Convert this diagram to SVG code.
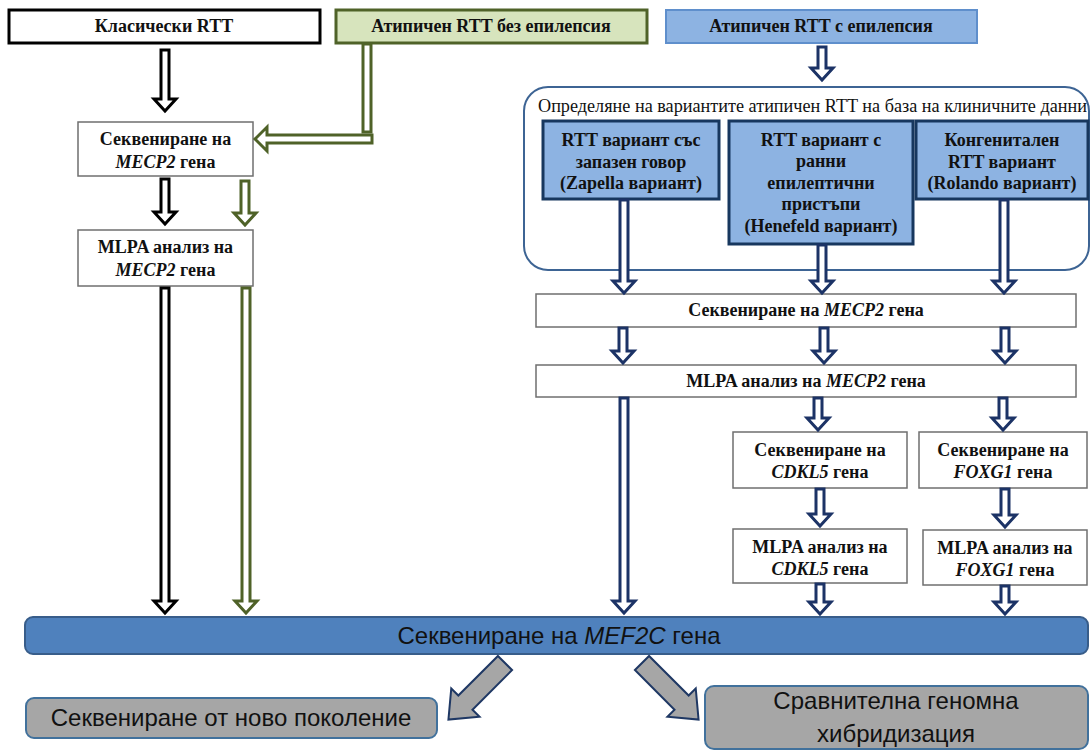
<svg xmlns="http://www.w3.org/2000/svg" width="1090" height="751" viewBox="0 0 1090 751">
  <style>
    .t { font-family: "Liberation Serif", "Times New Roman", serif; font-weight: bold; font-size: 18px; fill: #111; text-anchor: middle; }
    .hdr { font-family: "Liberation Serif", "Times New Roman", serif; font-size: 18px; fill: #111; }
    .s { font-family: "Liberation Sans", Arial, sans-serif; font-size: 24px; fill: #111; text-anchor: middle; }
    .i { font-style: italic; }
    .box { fill: #ffffff; stroke: #6f6f6f; stroke-width: 1.5; }
    .var { fill: #8db3e2; stroke: #17375e; stroke-width: 3; }
    .ab { fill: #ffffff; stroke: #000000; stroke-width: 3; stroke-linejoin: miter; }
    .ag { fill: #ffffff; stroke: #4f6228; stroke-width: 3; stroke-linejoin: miter; }
    .an { fill: #ffffff; stroke: #1c3366; stroke-width: 3; stroke-linejoin: miter; }
    .agr { fill: #a6a6a6; stroke: #1f3864; stroke-width: 2; stroke-linejoin: miter; }
  </style>

  <!-- group container for the clinical variant classification -->
  <g id="variant-frame">
    <rect x="524" y="87" width="565" height="183" rx="24" fill="none" stroke="#3d6494" stroke-width="2"/>
    <text class="hdr" x="538" y="112" textLength="549" lengthAdjust="spacingAndGlyphs">Определяне на вариантите атипичен RTT на база на клиничните данни</text>
  </g>

  <!-- top entry categories -->
  <g id="classic-rtt">
    <rect x="9" y="10" width="311" height="33" fill="#ffffff" stroke="#000000" stroke-width="3"/>
    <text class="t" x="164" y="32">Класически RTT</text>
  </g>
  <g id="atypical-no-epilepsy">
    <rect x="336" y="10" width="311" height="33" fill="#d7e4bd" stroke="#4f6228" stroke-width="3"/>
    <text class="t" x="491" y="32">Атипичен RTT без епилепсия</text>
  </g>
  <g id="atypical-epilepsy">
    <rect x="666" y="10" width="311" height="33" fill="#8db3e2" stroke="#5f8fcc" stroke-width="2"/>
    <text class="t" x="821" y="32">Атипичен RTT с епилепсия</text>
  </g>

  <!-- left column -->
  <g id="seq-mecp2-left">
    <rect class="box" x="78" y="122" width="175" height="54"/>
    <text class="t" x="165.5" y="145">Секвениране на</text>
    <text class="t" x="165.5" y="168"><tspan class="i">MECP2</tspan> гена</text>
  </g>
  <g id="mlpa-mecp2-left">
    <rect class="box" x="78" y="230" width="175" height="56"/>
    <text class="t" x="165.5" y="253">MLPA анализ на</text>
    <text class="t" x="165.5" y="276"><tspan class="i">MECP2</tspan> гена</text>
  </g>

  <!-- clinical variants -->
  <g id="zapella">
    <rect class="var" x="543" y="121" width="176" height="78"/>
    <text class="t" x="631" y="146">RTT вариант със</text>
    <text class="t" x="631" y="168">запазен говор</text>
    <text class="t" x="631" y="189">(Zapella  вариант)</text>
  </g>
  <g id="hanefeld">
    <rect class="var" x="729" y="121" width="184" height="123"/>
    <text class="t" x="821" y="146">RTT вариант с</text>
    <text class="t" x="821" y="167">ранни</text>
    <text class="t" x="821" y="189">епилептични</text>
    <text class="t" x="821" y="210">пристъпи</text>
    <text class="t" x="821" y="232">(Henefeld вариант)</text>
  </g>
  <g id="rolando">
    <rect class="var" x="916" y="121" width="172" height="78"/>
    <text class="t" x="1002" y="146">Конгенитален</text>
    <text class="t" x="1002" y="168">RTT вариант</text>
    <text class="t" x="1002" y="189">(Rolando вариант)</text>
  </g>

  <!-- right-hand testing steps -->
  <g id="seq-mecp2-right">
    <rect class="box" x="536" y="294" width="540" height="33"/>
    <text class="t" x="806" y="316">Секвениране на <tspan class="i">MECP2</tspan> гена</text>
  </g>
  <g id="mlpa-mecp2-right">
    <rect class="box" x="536" y="365" width="540" height="32"/>
    <text class="t" x="806" y="387">MLPA анализ на <tspan class="i">MECP2</tspan> гена</text>
  </g>
  <g id="seq-cdkl5">
    <rect class="box" x="733" y="432" width="174" height="56"/>
    <text class="t" x="820" y="456">Секвениране на</text>
    <text class="t" x="820" y="478"><tspan class="i">CDKL5</tspan> гена</text>
  </g>
  <g id="seq-foxg1">
    <rect class="box" x="919" y="432" width="168" height="56"/>
    <text class="t" x="1003" y="456">Секвениране на</text>
    <text class="t" x="1003" y="478"><tspan class="i">FOXG1</tspan> гена</text>
  </g>
  <g id="mlpa-cdkl5">
    <rect class="box" x="733" y="529" width="174" height="54"/>
    <text class="t" x="820" y="553">MLPA анализ на</text>
    <text class="t" x="820" y="575"><tspan class="i">CDKL5</tspan> гена</text>
  </g>
  <g id="mlpa-foxg1">
    <rect class="box" x="923" y="530" width="164" height="55"/>
    <text class="t" x="1005" y="554">MLPA анализ на</text>
    <text class="t" x="1005" y="576"><tspan class="i">FOXG1</tspan> гена</text>
  </g>

  <!-- shared final steps -->
  <g id="seq-mef2c">
    <rect x="25" y="617" width="1063" height="37" rx="8" fill="#4f81bd" stroke="#385d8a" stroke-width="2"/>
    <text class="s" x="559" y="644">Секвениране на <tspan class="i">MEF2C</tspan> гена</text>
  </g>
  <g id="ngs">
    <rect x="26" y="698" width="411" height="40" rx="8" fill="#a6a6a6" stroke="#41719c" stroke-width="2"/>
    <text class="s" x="231" y="726">Секвениране от ново поколение</text>
  </g>
  <g id="cgh">
    <rect x="705" y="686" width="383" height="63" rx="9" fill="#a6a6a6" stroke="#41719c" stroke-width="2"/>
    <text class="s" x="896" y="709">Сравнителна геномна</text>
    <text class="s" x="896" y="742">хибридизация</text>
  </g>

  <!-- connectors -->
  <g id="connectors">
    <!-- classic RTT path -->
    <path class="ab" d="M161,50H169V99H176L165,111L154,99H161Z"/>
    <path class="ab" d="M161,179H169V212H176L165,224L154,212H161Z"/>
    <path class="ab" d="M161,288H169V601H176L165,613L154,601H161Z"/>
    <!-- atypical without epilepsy path -->
    <path class="ag" d="M363,44H371V132H363Z"/>
    <path class="ag" d="M372,135V143H267V151L255,139L267,127V135Z"/>
    <path class="ag" d="M241,181H249V213H256L245,225L234,213H241Z"/>
    <path class="ag" d="M242,288H250V601H257L246,613L235,601H242Z"/>
    <!-- atypical with epilepsy path -->
    <path class="an" d="M818,47H826V68H833L822,80L811,68H818Z"/>
    <path class="an" d="M620,200H628V281H635L624,293L613,281H620Z"/>
    <path class="an" d="M818,245H826V281H833L822,293L811,281H818Z"/>
    <path class="an" d="M1000,200H1008V281H1015L1004,293L993,281H1000Z"/>
    <path class="an" d="M619,328H627V351H634L623,363L612,351H619Z"/>
    <path class="an" d="M820,328H828V351H835L824,363L813,351H820Z"/>
    <path class="an" d="M1001,328H1009V351H1016L1005,363L994,351H1001Z"/>
    <path class="an" d="M620,398H628V601H635L624,613L613,601H620Z"/>
    <path class="an" d="M814,398H822V418H829L818,430L807,418H814Z"/>
    <path class="an" d="M999,398H1007V418H1014L1003,430L992,418H999Z"/>
    <path class="an" d="M816,489H824V514H831L820,526L809,514H816Z"/>
    <path class="an" d="M1001,489H1009V515H1016L1005,527L994,515H1001Z"/>
    <path class="an" d="M816,584H824V602H831L820,614L809,602H816Z"/>
    <path class="an" d="M1001,586H1009V602H1016L1005,614L994,602H1001Z"/>
    <!-- outgoing diagonal arrows -->
    <polygon class="agr" transform="translate(505,663) rotate(45)" points="-10,0 10,0 10,56 20,56 0,80 -20,56 -10,56"/>
    <polygon class="agr" transform="translate(642,663) rotate(-45)" points="-10,0 10,0 10,56 20,56 0,80 -20,56 -10,56"/>
  </g>
</svg>
